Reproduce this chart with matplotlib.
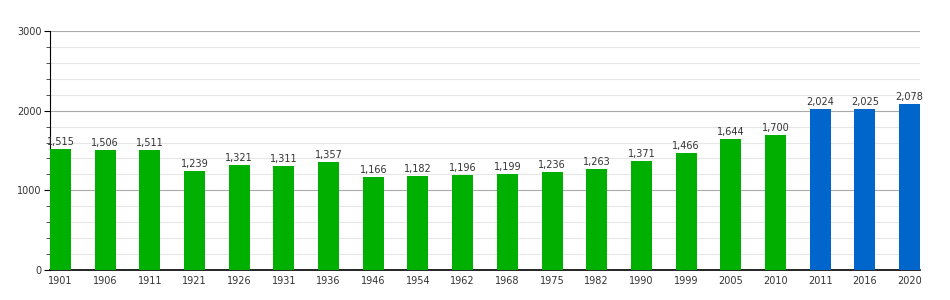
import matplotlib
matplotlib.use("Agg")
import matplotlib.pyplot as plt
from matplotlib.ticker import MultipleLocator, FuncFormatter

years = ["1901", "1906", "1911", "1921", "1926", "1931", "1936", "1946", "1954", "1962",
         "1968", "1975", "1982", "1990", "1999", "2005", "2010", "2011", "2016", "2020"]
population = [1515, 1506, 1511, 1239, 1321, 1311, 1357, 1166, 1182, 1196,
              1199, 1236, 1263, 1371, 1466, 1644, 1700, 2024, 2025, 2078]
colors = ["#00b000"] * 17 + ["#0066cc"] * 3

fig = plt.figure(figsize=(9.5, 3), dpi=100)
ax = fig.add_axes([50 / 950, 30 / 300, 870 / 950, 239 / 300])

x = range(len(years))
width = 0.47
ax.bar(x, population, width=width, color=colors, zorder=3)

for xi, v in zip(x, population):
    ax.text(xi, v + 25, f"{v:,}", ha="center", va="bottom", fontsize=7, color="#333333", zorder=4)

ax.set_xlim(-width / 2, len(years) - 1 + width / 2)
ax.set_ylim(0, 3000)
ax.set_xticks(list(x))
ax.set_xticklabels(years)
ax.yaxis.set_major_locator(MultipleLocator(1000))
ax.yaxis.set_minor_locator(MultipleLocator(200))
ax.yaxis.set_major_formatter(FuncFormatter(lambda v, p: f"{int(v)}"))

ax.grid(axis="y", which="major", color="#aaaaaa", linewidth=0.8, zorder=0)
ax.grid(axis="y", which="minor", color="#e6e6e6", linewidth=0.8, zorder=0)

for s in ["top", "right"]:
    ax.spines[s].set_visible(False)
ax.spines["left"].set_color("black")
ax.spines["bottom"].set_color("black")
ax.spines["bottom"].set_linewidth(1.2)

ax.tick_params(axis="y", which="major", length=4, labelsize=7, colors="#333333", pad=2)
ax.tick_params(axis="y", which="minor", length=3, color="#333333")
ax.tick_params(axis="x", length=0, labelsize=7, colors="#333333", pad=4)
ax.tick_params(axis="y", colors="black", labelcolor="#333333")

fig.savefig("out.png", dpi=100)
